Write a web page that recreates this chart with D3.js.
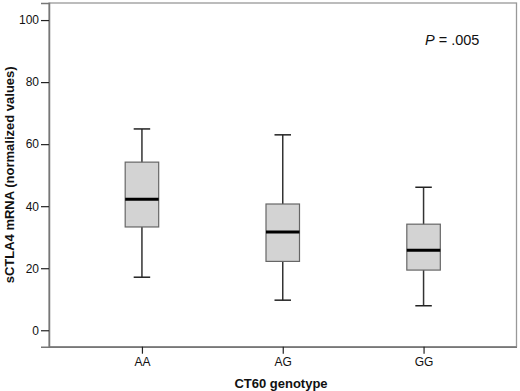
<!DOCTYPE html>
<html>
<head>
<meta charset="utf-8">
<script src="https://cdn.jsdelivr.net/npm/d3@7"></script>
<style>
  body { margin: 0; background: #fff; }
  text { font-family: "Liberation Sans", Arial, sans-serif; }
</style>
</head>
<body>
<div id="chart"></div>
<script>
// genotype groups and box statistics
var genotypes = ["AA", "AG", "GG"];
var whiskerLow = [17.1, 9.7, 7.9];
var q1 = [33.3, 22.2, 19.4];
var medians = [42.2, 31.7, 25.8];
var q3 = [54.2, 40.7, 34.2];
var whiskerHigh = [64.9, 63.0, 46.1];
var yTicks = [0, 20, 40, 60, 80, 100];

var width = 520, height = 391;
var margin = { top: 3, right: 3.5, bottom: 44.3, left: 49 };
var innerW = width - margin.left - margin.right;
var innerH = height - margin.top - margin.bottom;

var svg = d3.select("#chart").append("svg")
  .attr("width", width)
  .attr("height", height);

var g = svg.append("g")
  .attr("transform", "translate(" + margin.left + "," + margin.top + ")");

var x = d3.scalePoint().domain(genotypes).range([0, innerW]).padding(0.66);
var y = d3.scaleLinear().domain([-5.3, 105.5]).range([innerH, 0]);

// plot frame
g.append("rect")
  .attr("x", 0).attr("y", 0)
  .attr("width", innerW).attr("height", innerH)
  .attr("fill", "none")
  .attr("stroke", "#999")
  .attr("stroke-width", 1.3);

// axes
var yAxis = g.append("g")
  .call(d3.axisLeft(y).tickValues(yTicks).tickSize(8).tickPadding(2).tickFormat(d3.format("d")));
yAxis.select(".domain").attr("stroke", "#777").attr("stroke-width", 1.5);
yAxis.selectAll(".tick line").attr("stroke", "#222").attr("stroke-width", 1.2);
yAxis.selectAll(".tick text").attr("font-size", 12).attr("fill", "#111");

var xAxis = g.append("g")
  .attr("transform", "translate(0," + innerH + ")")
  .call(d3.axisBottom(x).tickSize(7).tickPadding(4).tickSizeOuter(0));
xAxis.select(".domain").attr("stroke", "#777").attr("stroke-width", 1.5);
xAxis.selectAll(".tick line").attr("stroke", "#222").attr("stroke-width", 1.2);
xAxis.selectAll(".tick text").attr("font-size", 12).attr("fill", "#111");

// boxes
var data = genotypes.map(function (d, i) {
  return { key: d, lo: whiskerLow[i], q1: q1[i], med: medians[i], q3: q3[i], hi: whiskerHigh[i] };
});
var boxW = 33.5, capW = 16.5;

var boxes = g.selectAll(".box").data(data).enter().append("g").attr("class", "box");

boxes.append("line")
  .attr("x1", function (d) { return x(d.key); })
  .attr("x2", function (d) { return x(d.key); })
  .attr("y1", function (d) { return y(d.hi); })
  .attr("y2", function (d) { return y(d.lo); })
  .attr("stroke", "#333").attr("stroke-width", 1.5);

boxes.selectAll(".cap")
  .data(function (d) { return [{ k: d.key, v: d.hi }, { k: d.key, v: d.lo }]; })
  .enter().append("line")
  .attr("class", "cap")
  .attr("x1", function (d) { return x(d.k) - capW / 2; })
  .attr("x2", function (d) { return x(d.k) + capW / 2; })
  .attr("y1", function (d) { return y(d.v); })
  .attr("y2", function (d) { return y(d.v); })
  .attr("stroke", "#222").attr("stroke-width", 1.5);

boxes.append("rect")
  .attr("x", function (d) { return x(d.key) - boxW / 2; })
  .attr("y", function (d) { return y(d.q3); })
  .attr("width", boxW)
  .attr("height", function (d) { return y(d.q1) - y(d.q3); })
  .attr("fill", "#d3d3d3")
  .attr("stroke", "#666").attr("stroke-width", 1.2);

boxes.append("line")
  .attr("x1", function (d) { return x(d.key) - boxW / 2; })
  .attr("x2", function (d) { return x(d.key) + boxW / 2; })
  .attr("y1", function (d) { return y(d.med); })
  .attr("y2", function (d) { return y(d.med); })
  .attr("stroke", "#000").attr("stroke-width", 3);

// P value annotation
var pText = g.append("text")
  .attr("x", 376).attr("y", 42)
  .attr("font-size", 14.5).attr("fill", "#111");
pText.append("tspan").attr("font-style", "italic").text("P");
pText.append("tspan").text(" = .005");

// axis titles
svg.append("text")
  .attr("x", 281)
  .attr("y", 388)
  .attr("text-anchor", "middle")
  .attr("font-size", 13).attr("font-weight", "bold").attr("fill", "#111")
  .text("CT60 genotype");

svg.append("text")
  .attr("transform", "translate(14," + (margin.top + innerH / 2) + ") rotate(-90)")
  .attr("text-anchor", "middle")
  .attr("font-size", 13).attr("font-weight", "bold").attr("fill", "#111")
  .text("sCTLA4 mRNA (normalized values)");
</script>
</body>
</html>
